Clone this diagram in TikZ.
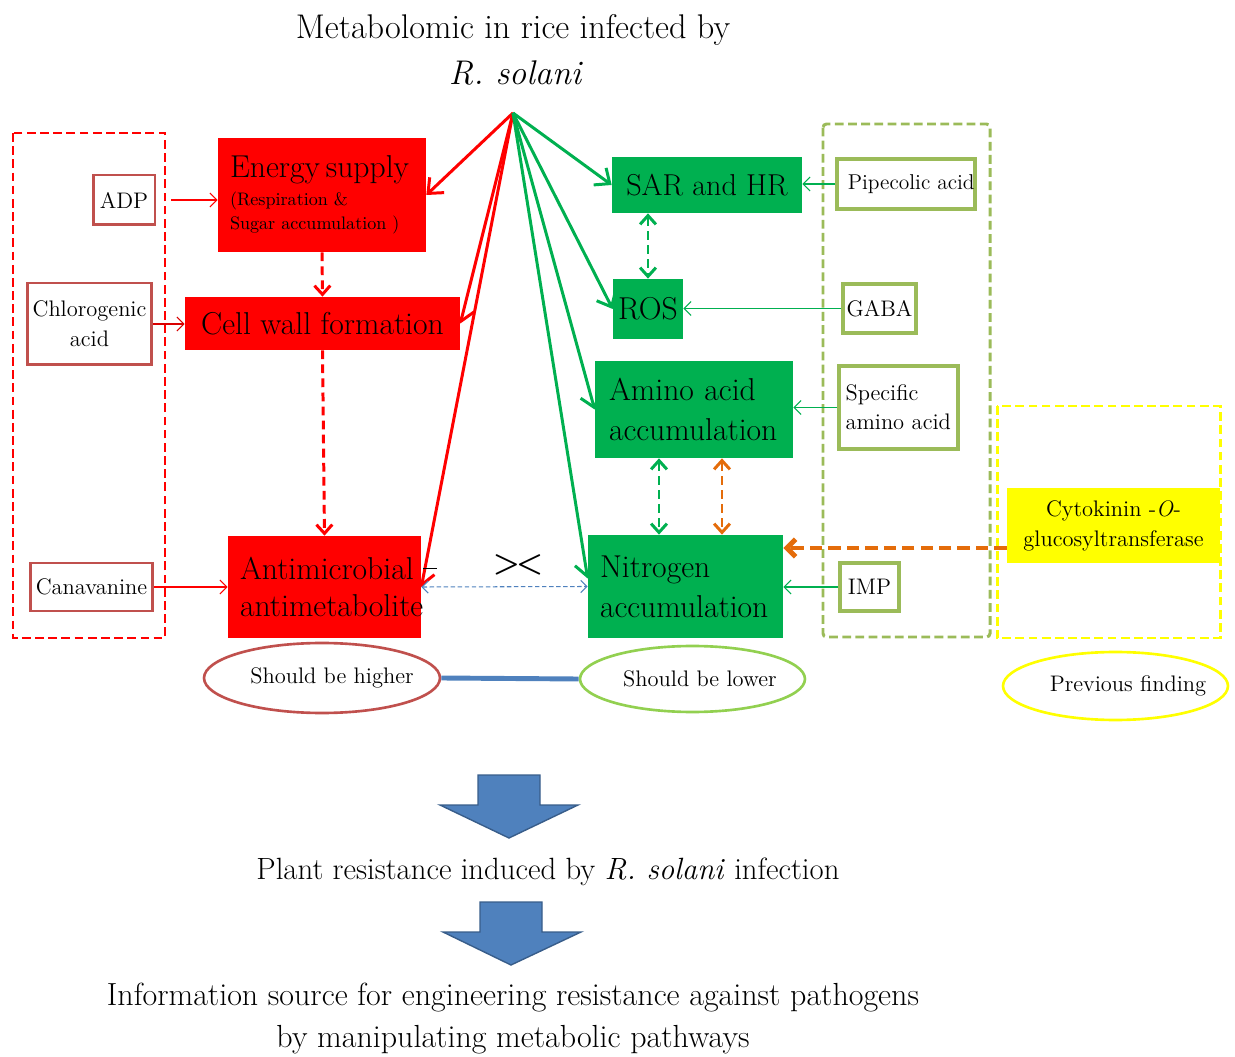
\documentclass[tikz,border=0pt]{standalone}
\usetikzlibrary{arrows.meta,shapes.geometric,calc}
\definecolor{cRed}{HTML}{FF0000}
\definecolor{cGreen}{HTML}{00B050}
\definecolor{cLRed}{HTML}{C0504D}
\definecolor{cLGreen}{HTML}{9BBB59}
\definecolor{cLime}{HTML}{92D050}
\definecolor{cYellow}{HTML}{FFFF00}
\definecolor{cOrange}{HTML}{E46C0A}
\definecolor{cBlue}{HTML}{4F81BD}
\definecolor{cDBlue}{HTML}{385D8A}
\newcommand{\fsz}[2]{\fontsize{#1}{#2}\selectfont}
\begin{document}
\begin{tikzpicture}[x=0.02cm,y=-0.02cm,
  mybox/.style={inner sep=0pt, font=\fsz{18}{21.5}},
  redbox/.style={mybox, fill=cRed},
  grnbox/.style={mybox, fill=cGreen},
  lbox/.style={draw=cLRed, line width=1.7pt, fill=white, inner sep=0pt, font=\fsz{12.8}{17}, align=center},
  rbox/.style={draw=cLGreen, line width=1.8pt, fill=white, inner sep=0pt, font=\fsz{12.8}{16.4}, align=center},
  bigarrow/.style={line width=1.7pt, -{Straight Barb[length=7pt,width=12pt]}},
  thinarrow/.style={line width=0.6pt, -{Straight Barb[length=4pt,width=8pt]}},
  dblarrow/.style={line width=1.7pt, dash pattern=on 5pt off 3pt, {Straight Barb[length=5pt,width=9pt]}-{Straight Barb[length=5pt,width=9pt]}},
  container/.style={line width=1.7pt, dash pattern=on 5pt off 2.5pt},
  ell/.style={ellipse, draw, line width=1.5pt, inner sep=0pt, label distance=0pt}
]
\useasboundingbox (0,0) rectangle (1235,1057);

% title
\node[font=\fsz{19.5}{22}] (title) at (513,30) {Metabolomic in rice infected by};
\node[font=\fsz{19.5}{22}\itshape] (title2) at (515,73) {R. solani};
\coordinate (apex) at (513,113);

% containers
\draw[container, draw=cRed] (13,133) rectangle (165,638);
\draw[container, draw=cLGreen, rounded corners=2pt] (823,124) rectangle (990,637);
\draw[container, draw=cYellow] (997,406) rectangle (1220,638);

% red boxes
\node[redbox, text width=3.68cm, inner xsep=0.24cm, minimum height=2.28cm, align=left, font=\fsz{10.3}{13.6}] (energy) at (322,195)
  {{\fsz{18}{18}Energy supply}\\[2.4pt](Respiration \&\\Sugar accumulation )};
\node[redbox, minimum width=5.5cm, minimum height=1.06cm] (cellwall) at (322.5,323.5) {Cell wall formation};
\node[redbox, text width=3.38cm, inner xsep=0.24cm, minimum height=2.04cm, align=left] (anti) at (324.5,587)
  {Antimicrobial\\antimetabolite};

% green boxes
\node[grnbox, minimum width=3.8cm, minimum height=1.12cm, font=\fsz{17.2}{20}] (sar) at (707,185) {SAR and HR};
\node[grnbox, minimum width=1.4cm, minimum height=1.2cm] (ros) at (648,309) {ROS};
\node[grnbox, text width=3.4cm, inner xsep=0.28cm, minimum height=1.94cm, align=left, font=\fsz{18}{22.7}] (amino) at (694,409.5)
  {Amino acid\\accumulation};
\node[grnbox, text width=3.42cm, inner xsep=0.24cm, minimum height=2.06cm, align=left, font=\fsz{18}{22.7}] (nit) at (685.5,586.5)
  {Nitrogen\\accumulation};

% left metabolite boxes
\node[lbox, minimum width=1.24cm, minimum height=1.0cm] (adp) at (124,200) {ADP};
\node[lbox, minimum width=2.5cm, minimum height=1.64cm] (chloro) at (89.5,324) {Chlorogenic\\acid};
\node[lbox, minimum width=2.46cm, minimum height=0.96cm] (canav) at (91.5,587) {Canavanine};

% right metabolite boxes
\node[rbox, minimum width=2.76cm, minimum height=1.0cm, font=\fsz{12.2}{14}] (pipe) at (906,184) {\hspace{6pt}Pipecolic acid};
\node[rbox, minimum width=1.46cm, minimum height=0.98cm] (gaba) at (879.5,308.5) {GABA};
\node[rbox, text width=2.12cm, inner xsep=0.13cm, minimum height=1.66cm, align=left] (spec) at (898.5,407.5) {Specific\\amino acid};
\node[rbox, minimum width=1.18cm, minimum height=0.96cm] (imp) at (869.5,587) {IMP};

% previous finding
\node[fill=cYellow, minimum width=4.26cm, minimum height=1.5cm, inner sep=0pt, align=center, font=\fsz{12.8}{17}] (cyto) at (1113.5,525.5)
  {Cytokinin -\textit{O}-\\glucosyltransferase};

% ellipses
\node[ell, draw=cLRed, minimum width=4.72cm, minimum height=1.4cm,
  label={[font=\fsz{12.8}{14}, xshift=0.2cm]center:Should be higher}] (high) at (322,678) {};
\node[ell, draw=cLime, minimum width=4.5cm, minimum height=1.32cm,
  label={[font=\fsz{12.8}{14}, xshift=0.15cm]center:Should be lower}] (low) at (692.5,679) {};
\node[ell, draw=cYellow, minimum width=4.5cm, minimum height=1.36cm,
  label={[font=\fsz{12.8}{14}, xshift=0.25cm]center:Previous finding}] (prev) at (1115.5,686) {};
\draw[cBlue, line width=2.8pt] (high.east) -- (low.west);

% arrows from apex
\draw[bigarrow, cRed] (apex) -- (energy.east);
\draw[bigarrow, cRed] (apex) -- (cellwall.east);
\draw[bigarrow, cRed] (apex) -- (anti.east);
\draw[bigarrow, cGreen] (apex) -- (sar.west);
\draw[bigarrow, cGreen] (apex) -- (ros.west);
\draw[bigarrow, cGreen] (apex) -- (amino.west);
\draw[bigarrow, cGreen] (apex) -- ($(nit.west)+(0,-8)$);

% red dashed flow
\draw[cRed, line width=1.7pt, dash pattern=on 5pt off 3pt, -{Straight Barb[length=5pt,width=9pt]}] (energy.south) -- (cellwall.north);
\draw[cRed, line width=1.7pt, dash pattern=on 5pt off 3pt, -{Straight Barb[length=5pt,width=9pt]}] (cellwall.south) -- (anti.north);

% green / orange dashed double arrows
\draw[dblarrow, cGreen] (ros.north |- sar.south) -- (ros.north);
\coordinate (ag1) at ($(amino.south)+(-35,0)$);
\coordinate (ag2) at (ag1 |- nit.north);
\coordinate (ao1) at ($(amino.south)+(28,0)$);
\coordinate (ao2) at (ao1 |- nit.north);
\draw[dblarrow, cGreen] (ag1) -- (ag2);
\draw[dblarrow, cOrange] (ao1) -- (ao2);

% cytokinin to nitrogen
\coordinate (cyin) at ($(cyto.west)+(0,22.5)$);
\draw[cOrange, line width=2.8pt, dash pattern=on 7pt off 3.5pt, -{Straight Barb[length=5pt,width=10pt]}] (cyin) -- (cyin -| nit.east);

% thin metabolite arrows
\draw[thinarrow, cRed] (adp.east) ++(15,0) -- (adp.east -| energy.west);
\draw[thinarrow, cRed!85!black] (chloro.east) -- (chloro.east -| cellwall.west);
\draw[thinarrow, cRed] (canav.east) -- (canav.east -| anti.west);
\draw[thinarrow, cGreen] (pipe.west) -- (pipe.west -| sar.east);
\draw[thinarrow, cGreen] (gaba.west) -- (gaba.west -| ros.east);
\draw[thinarrow, cGreen] (spec.west) -- (spec.west -| amino.east);
\draw[thinarrow, cGreen] (imp.west) -- (imp.west -| nit.east);

% blue dashed comparison
\draw[cBlue, line width=0.6pt, dash pattern=on 2.5pt off 1.5pt, {Straight Barb[length=3.5pt,width=7pt]}-{Straight Barb[length=3.5pt,width=7pt]}] (anti.east) -- (nit.west);
\node[font=\fsz{16}{16}\boldmath] (cmp) at (518,565) {${>}\mkern-2mu{<}$};
\draw[black, line width=0.5pt] (423,568) -- (437,568);

% block arrows and conclusions
\draw[fill=cBlue, draw=cDBlue, line width=0.8pt] (478,775) -- (540,775) -- (540,805) -- (578,805) -- (509,838) -- (440,805) -- (478,805) -- cycle;
\node[font=\fsz{17.5}{20}] (res) at (548,872) {Plant resistance induced by \textit{R. solani} infection};
\draw[fill=cBlue, draw=cDBlue, line width=0.8pt] (480,902) -- (542,902) -- (542,932) -- (581,932) -- (511,965) -- (443,932) -- (480,932) -- cycle;
\node[font=\fsz{18.2}{20}] (info1) at (513,998) {Information source for engineering resistance against pathogens};
\node[font=\fsz{18.2}{20}] (info2) at (513,1040) {by manipulating metabolic pathways};
\end{tikzpicture}
\end{document}
